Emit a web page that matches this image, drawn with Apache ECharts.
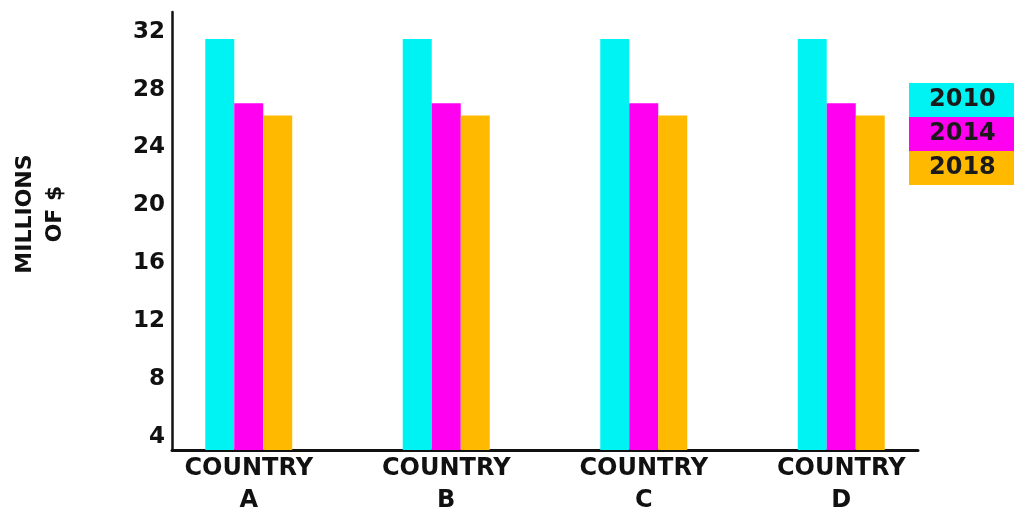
<!DOCTYPE html>
<html><head><meta charset="utf-8">
<script src="https://cdn.jsdelivr.net/npm/echarts@6/dist/echarts.min.js"></script>
<style>html,body{margin:0;padding:0;background:#fff}#c{width:1014px;height:511px}</style>
</head><body><div id="c"></div>
<script>
const categories = ['COUNTRY\nA', 'COUNTRY\nB', 'COUNTRY\nC', 'COUNTRY\nD'];
const years = ['2010', '2014', '2018'];
const values2010 = [31.5, 31.5, 31.5, 31.5];
const values2014 = [27.05, 27.05, 27.05, 27.05];
const values2018 = [26.2, 26.2, 26.2, 26.2];
const yTicks = [4, 8, 12, 16, 20, 24, 28, 32];
const colors = ['#00F3F3', '#FF00F0', '#FFBA00'];
const yMin = 3.08, yMax = 33.36;
const FONT = 'DejaVu Sans';

const chart = echarts.init(document.getElementById('c'), null, {renderer: 'canvas'});
const seriesData = [values2010, values2014, values2018];
chart.setOption({
  animation: false,
  backgroundColor: '#fff',
  grid: [
    {left: 150, right: 74, top: 12, bottom: 61, containLabel: false, outerBoundsMode: 'none'},
    {left: 172, right: 96, top: 12, bottom: 61, containLabel: false, outerBoundsMode: 'none'}
  ],
  legend: {
    orient: 'vertical', left: 904, top: 83, itemGap: 0, itemWidth: 0, itemHeight: 0, icon: 'rect',
    selectedMode: false, padding: 0,
    data: years.map((y, i) => ({
      name: y,
      textStyle: {
        backgroundColor: colors[i], height: 34, lineHeight: 34, padding: [0, 40, 0, 20],
        fontFamily: FONT, fontWeight: 'bold', fontSize: 24, color: '#1a1a1a'
      }
    }))
  },
  xAxis: [
    {type: 'category', gridIndex: 0, data: categories,
     axisLine: {show: false}, axisTick: {show: false},
     axisLabel: {fontFamily: FONT, fontWeight: 'bold', fontSize: 24, color: '#111', lineHeight: 32, margin: 3}},
    {type: 'value', gridIndex: 1, min: 0, max: 1,
     axisLine: {show: true, lineStyle: {color: '#111', width: 3}}, axisTick: {show: false},
     axisLabel: {show: false}, splitLine: {show: false}}
  ],
  yAxis: [
    {type: 'value', gridIndex: 0, min: yMin, max: yMax, show: false},
    {type: 'value', gridIndex: 1, min: yMin, max: yMax,
     axisLine: {show: true, lineStyle: {color: '#111', width: 2.5}}, axisTick: {show: false},
     splitLine: {show: false},
     axisLabel: {customValues: yTicks, fontFamily: FONT, fontWeight: 'bold', fontSize: 23, color: '#111', margin: 7},
     name: 'MILLIONS\nOF $', nameLocation: 'middle', nameRotate: 90, nameGap: 102,
     nameTextStyle: {fontFamily: FONT, fontWeight: 'bold', fontSize: 22, color: '#111', lineHeight: 30, align: 'center', padding: [0, 0, 0, 34]}}
  ],
  series: years.map((y, i) => ({
    name: y, type: 'bar', xAxisIndex: 0, yAxisIndex: 0,
    data: seriesData[i], barWidth: 29, barGap: '0%',
    itemStyle: {color: colors[i]}
  }))
});
</script></body></html>
